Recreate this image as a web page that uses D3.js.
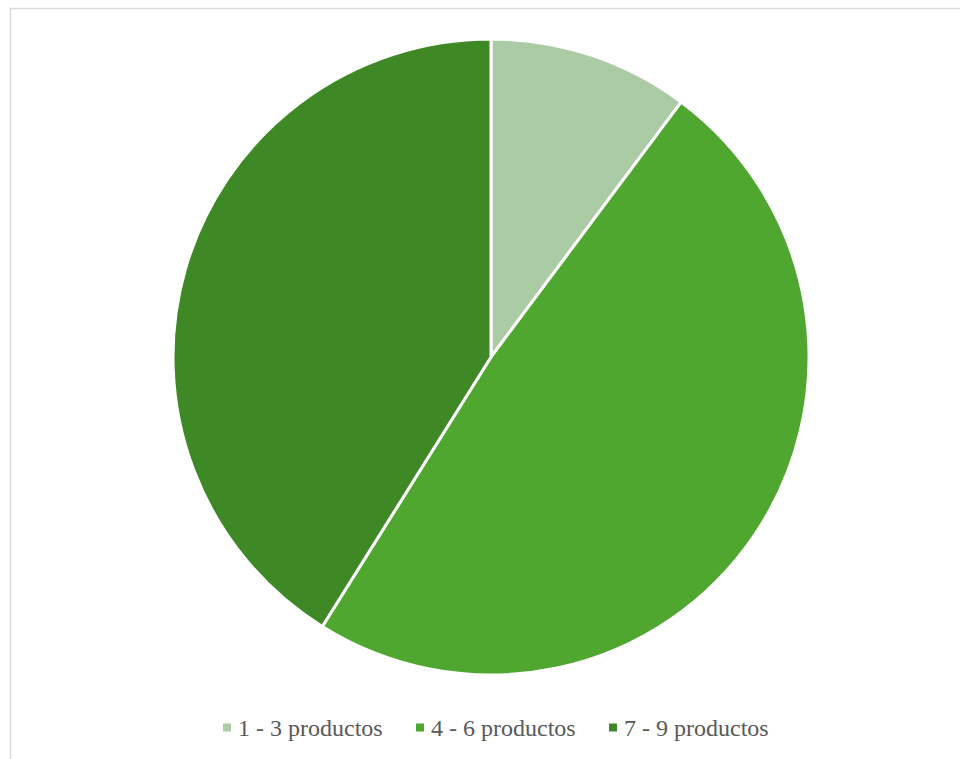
<!DOCTYPE html>
<html>
<head>
<meta charset="utf-8">
<script src="https://cdn.jsdelivr.net/npm/d3@7"></script>
<style>
  html, body { margin: 0; padding: 0; background: #fff; }
  svg { display: block; }
</style>
</head>
<body>
<svg id="chart" width="960" height="759"></svg>
<script>
// Share of customers by number of products bought
const categories = ["1 - 3 productos", "4 - 6 productos", "7 - 9 productos"];
const values = [10.2, 48.7, 41.1];
const colors = ["#abcba4", "#4fa72f", "#3e8826"];

const width = 960, height = 759;
const svg = d3.select("#chart");

// chart frame
svg.append("rect")
  .attr("x", 10.5).attr("y", 8.5)
  .attr("width", width + 10).attr("height", height + 10)
  .attr("fill", "#fff")
  .attr("stroke", "#d9d9d9")
  .attr("stroke-width", 1.5);

const cx = 491, cy = 357, radius = 318;

const pie = d3.pie().sort(null).value(d => d.value);
const arc = d3.arc().innerRadius(0).outerRadius(radius);

const data = categories.map((c, i) => ({ name: c, value: values[i], color: colors[i] }));

const g = svg.append("g").attr("transform", `translate(${cx},${cy})`);
g.selectAll("path")
  .data(pie(data))
  .join("path")
  .attr("d", arc)
  .attr("fill", d => d.data.color)
  .attr("stroke", "#fff")
  .attr("stroke-width", 3)
  .attr("stroke-linejoin", "round");

// legend
const legendX = [223, 416, 609];
const legendY = 728;
const legend = svg.append("g");
const items = legend.selectAll("g")
  .data(data)
  .join("g")
  .attr("transform", (d, i) => `translate(${legendX[i]},${legendY})`);
items.append("rect")
  .attr("x", 0).attr("y", -4.5)
  .attr("width", 8).attr("height", 8)
  .attr("fill", d => d.color);
items.append("text")
  .attr("x", 15).attr("y", 0)
  .attr("dy", "0.35em")
  .attr("font-family", "'Liberation Serif', 'Times New Roman', serif")
  .attr("font-size", 24)
  .attr("fill", "#595959")
  .text(d => d.name);
</script>
</body>
</html>
